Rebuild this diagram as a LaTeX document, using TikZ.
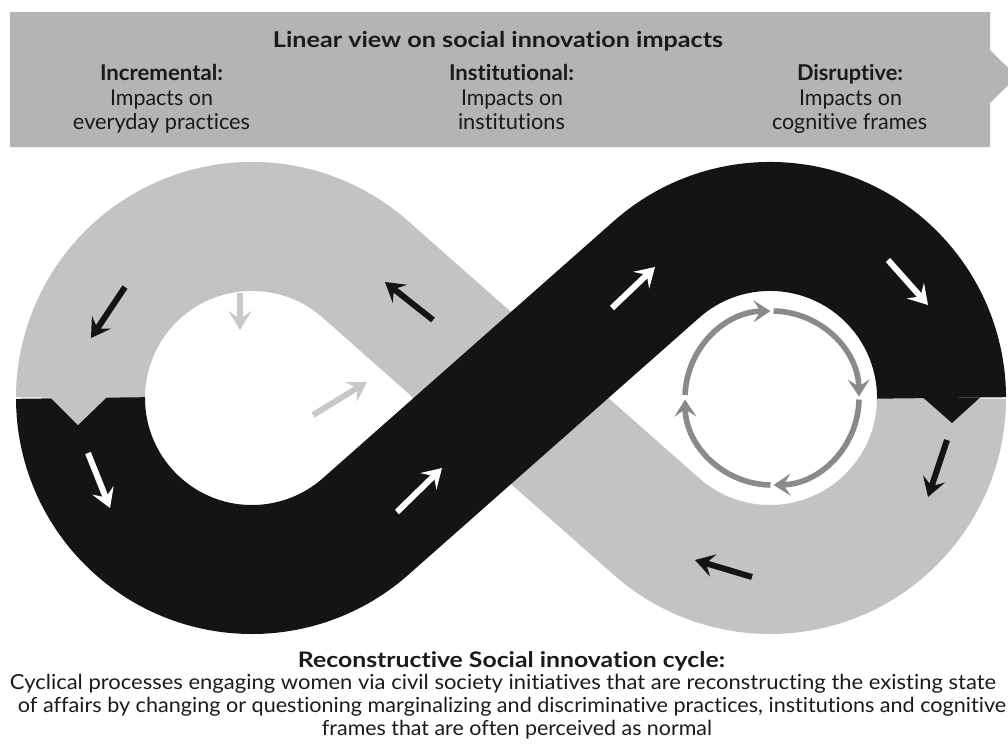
\documentclass[tikz,border=0pt]{standalone}
\usepackage{fontspec}
\setmainfont{Lato}[Ligatures=NoCommon]
\usetikzlibrary{arrows.meta}
\definecolor{bandgray}{HTML}{C3C3C3}
\definecolor{bannergray}{HTML}{B4B4B4}
\definecolor{bandblack}{HTML}{141414}
\definecolor{ringgray}{HTML}{8A8A8A}
\definecolor{lightarrow}{HTML}{C8C8C8}
\definecolor{txt}{HTML}{1A1A1A}
\newlength\pxu
\setlength\pxu{0.05cm}
\newcommand\fitw[2]{\resizebox{#1\pxu}{\height}{#2}}
\tikzset{
  band/.style={line width=6.45cm},
  blk/.style={line width=0.3cm, -{Stealth[length=0.95cm,width=1.15cm,inset=0.38cm]}},
  ringarrow/.style={ringgray, line width=0.28cm, -{Stealth[length=0.85cm,width=1.1cm,inset=0.35cm]}},
  toptxt/.style={inner sep=0pt, anchor=base, text=txt, font=\fontsize{31}{36}\selectfont},
  bottxt/.style={inner sep=0pt, anchor=base, text=txt, font=\fontsize{29.5}{34}\selectfont}
}
\begin{document}
\begin{tikzpicture}[x=0.05cm,y=-0.05cm]
\useasboundingbox (0,0) rectangle (1008,743);
\clip (0,0) rectangle (1008,743);
% banner
\fill[bannergray] (10,12) -- (990,12) -- (990,50) -- (1017,76.5) -- (990,103) -- (990,147) -- (10,147) -- cycle;
\node[toptxt] (title) at (498,47) {\fitw{450}{\bfseries Linear view on social innovation impacts}};
\node[toptxt] (incr1) at (161.5,80) {\fitw{123}{\bfseries Incremental:}};
\node[toptxt] (incr2) at (161.5,105) {\fitw{103}{Impacts on}};
\node[toptxt] (incr3) at (161.5,129) {\fitw{177}{everyday practices}};
\node[toptxt] (inst1) at (511.5,80) {\fitw{125}{\bfseries Institutional:}};
\node[toptxt] (inst2) at (512,105) {\fitw{102}{Impacts on}};
\node[toptxt] (inst3) at (511.5,129) {\fitw{107}{institutions}};
\node[toptxt] (disr1) at (850,80) {\fitw{106}{\bfseries Disruptive:}};
\node[toptxt] (disr2) at (850.5,105) {\fitw{103}{Impacts on}};
\node[toptxt] (disr3) at (849.5,129) {\fitw{155}{cognitive frames}};
% infinity bands
\draw[band, bandgray] (941.5,398) arc[start angle=0,end angle=131.5,radius=171.5] -- (365.6,269.5) arc[start angle=-48.5,end angle=-180,radius=171.5];
\draw[band, bandblack] (80.5,398) arc[start angle=180,end angle=48.5,radius=171.5] -- (656.4,269.5) arc[start angle=228.5,end angle=360,radius=171.5];
\fill[bandgray] (50,397) -- (107,397) -- (78,425) -- cycle;
\fill[bandblack] (923,397.5) -- (980,397.5) -- (952,423) -- cycle;
% black arrows
\draw[blk, bandblack] (125,287) -- (91,338);
\draw[blk, bandblack] (433,320) -- (385,282);
\draw[blk, bandblack] (947,440) -- (928,497);
\draw[blk, bandblack] (752,577) -- (695,560);
% white arrows
\draw[blk, white] (88,453) -- (110,508);
\draw[blk, white] (397,512) -- (442,468);
\draw[blk, white] (612,308) -- (655,267);
\draw[blk, white] (888,260) -- (928,305);
% light arrows
\draw[blk, lightarrow] (240,293) -- (240,330);
\draw[blk, lightarrow] (313,415) -- (367,382);
% ring
\draw[ringarrow] (772,398) ++(182:87) arc[start angle=182,end angle=269,radius=87];
\draw[ringarrow] (772,398) ++(271:87) arc[start angle=271,end angle=359,radius=87];
\draw[ringarrow] (772,398) ++(1:87) arc[start angle=1,end angle=89,radius=87];
\draw[ringarrow] (772,398) ++(91:87) arc[start angle=91,end angle=179,radius=87];
% bottom text
\node[bottxt, font=\fontsize{30.5}{34}\selectfont] (btitle) at (511.5,667) {\fitw{427}{\bfseries Reconstructive Social innovation cycle:}};
\node[bottxt] (b1) at (503,689) {\fitw{986}{Cyclical processes engaging women via civil society initiatives that are reconstructing the existing state}};
\node[bottxt] (b2) at (512,712) {\fitw{988}{of affairs by changing or questioning marginalizing and discriminative practices, institutions and cognitive}};
\node[bottxt] (b3) at (517,735) {\fitw{390}{frames that are often perceived as normal}};
\end{tikzpicture}
\end{document}
